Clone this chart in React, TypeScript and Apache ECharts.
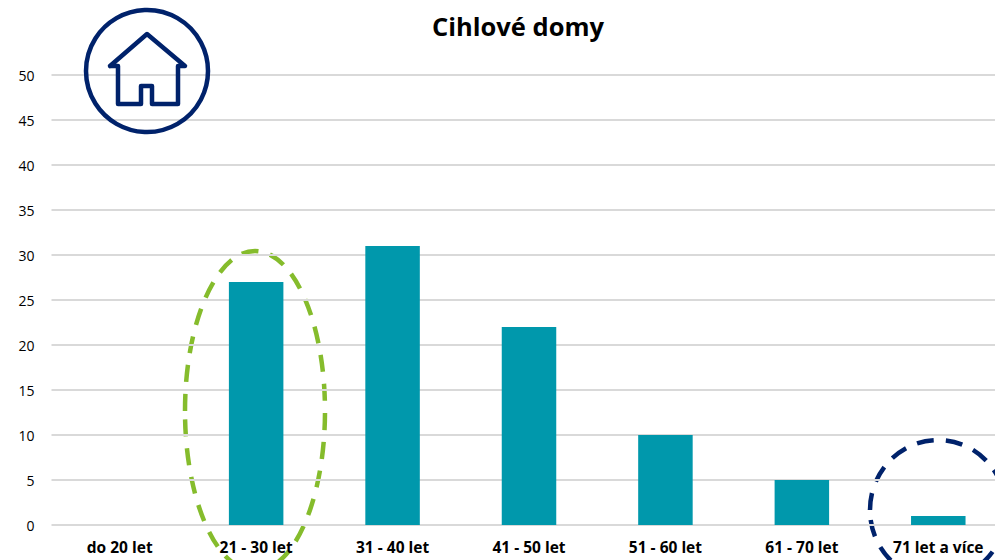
import React, { useEffect, useRef } from "react";
import * as echarts from "echarts";

const categories = ["do 20 let", "21 - 30 let", "31 - 40 let", "41 - 50 let", "51 - 60 let", "61 - 70 let", "71 let a více"];
const values = [0, 27, 31, 22, 10, 5, 1];
const titleText = "Cihlové domy";
const FONT = '"Open Sans", sans-serif';
const NAVY = "#00226B";
const GREEN = "#85BC2C";
const TEAL = "#0098AC";
const housePoints = [
  [110, 66], [147, 34], [185, 66], [178, 66], [178, 104], [152, 104], [152, 86],
  [141, 86], [141, 104], [118, 104], [118, 66], [110, 66],
];

export default function App() {
  const ref = useRef<HTMLDivElement>(null);
  useEffect(() => {
    const chart = echarts.init(ref.current!, null, { renderer: "svg" });
    chart.setOption({
      animation: false,
      backgroundColor: "#fff",
      title: {
        text: titleText,
        left: 513,
        top: 8,
        textAlign: "center",
        textStyle: { fontFamily: FONT, fontSize: 25.5, fontWeight: "bold", color: "#000" },
      },
      grid: { left: 51.5, top: 75, width: 955, height: 450, containLabel: false },
      xAxis: {
        type: "category",
        data: categories,
        axisLine: { show: false },
        axisTick: { show: false },
        axisLabel: { fontFamily: FONT, fontSize: 15.5, fontWeight: "bold", color: "#000", margin: 14, interval: 0 },
      },
      yAxis: {
        type: "value",
        min: 0,
        max: 50,
        interval: 5,
        axisLine: { show: false },
        axisTick: { show: false },
        axisLabel: { fontFamily: FONT, fontSize: 14, color: "#000", margin: 17, padding: [0, 0, 3, 0] },
        splitLine: { lineStyle: { color: "#D9D9D9", width: 2 } },
      },
      series: [
        {
          type: "bar",
          data: values,
          barWidth: 54.5,
          itemStyle: { color: TEAL },
          silent: true,
        },
      ],
      graphic: [
        { type: "ellipse", z: -1, shape: { cx: 255, cy: 411, rx: 70, ry: 160 },
          style: { fill: "none", stroke: GREEN, lineWidth: 4.5, lineDash: [17, 12] } },
        { type: "ellipse", z: -1, shape: { cx: 938, cy: 510, rx: 68, ry: 70 },
          style: { fill: "none", stroke: NAVY, lineWidth: 4.5, lineDash: [17, 12] } },
        { type: "circle", z: 10, shape: { cx: 147, cy: 71, r: 61 },
          style: { fill: "none", stroke: NAVY, lineWidth: 4.5 } },
        { type: "polyline", z: 10, shape: { points: housePoints },
          style: { fill: "none", stroke: NAVY, lineWidth: 4.5, lineJoin: "round", lineCap: "round" } },
      ],
    });
    return () => chart.dispose();
  }, []);
  return (
    <div style={{ position: "fixed", left: 0, top: 0, width: 995, height: 560, overflow: "hidden", background: "#fff" }}>
      <div ref={ref} style={{ width: 1010, height: 600 }} />
    </div>
  );
}
